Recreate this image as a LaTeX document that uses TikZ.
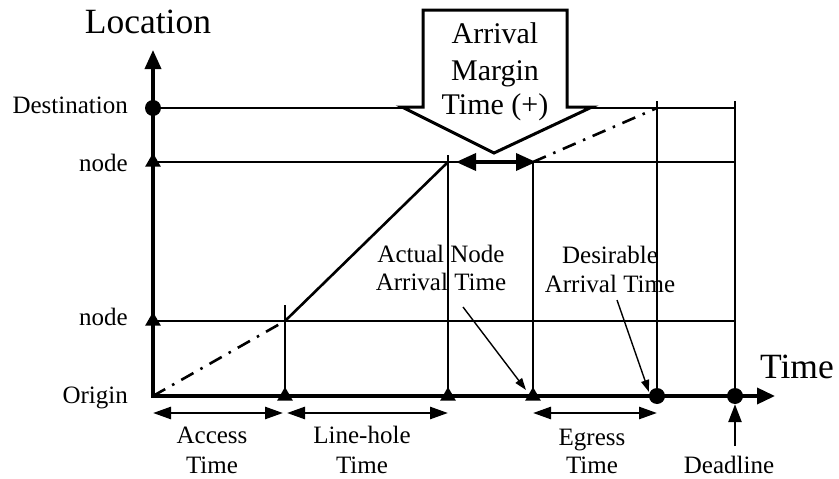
\documentclass[tikz,border=0pt]{standalone}
\usepackage{fontspec}
\setmainfont{Liberation Serif}
\usetikzlibrary{arrows.meta,shapes.geometric}

\begin{document}
\begin{tikzpicture}[x=1pt,y=-1pt,
  grid/.style={line width=1.7pt},
  axis/.style={line width=3.6pt, line join=miter},
  lbl/.style={font=\fontsize{25}{29}\selectfont, inner sep=0pt, anchor=base},
  ylbl/.style={font=\fontsize{25}{29}\selectfont, inner sep=0pt, anchor=base east},
  big/.style={font=\fontsize{35.5}{40}\selectfont, inner sep=0pt, anchor=base},
  calltext/.style={font=\fontsize{30}{36}\selectfont, inner sep=0pt, anchor=base},
  dashdot/.style={line width=2.6pt, dash pattern=on 14pt off 8pt on 2.5pt off 8pt},
  span/.style={line width=2.6pt, {Triangle[length=18pt,width=12pt]}-{Triangle[length=18pt,width=12pt]}},
  margin/.style={line width=3.6pt, {Triangle[length=20pt,width=17pt]}-{Triangle[length=20pt,width=17pt]}},
  pointer/.style={line width=1.4pt, -{Triangle[length=12pt,width=8pt]}},
  tri/.style={regular polygon, regular polygon sides=3, fill, draw=none, inner sep=0pt, minimum size=18pt},
  dot/.style={circle, fill, draw=none, inner sep=0pt, minimum size=16pt},
]
\useasboundingbox[fill=white] (0,0) rectangle (839,479);

% key points of the chart
\coordinate (O) at (153,396);
\coordinate (ytop) at (153,50);
\coordinate (xend) at (775,396);
\coordinate (dst) at (153,108);
\coordinate (n2) at (153,162);
\coordinate (n1) at (153,321);

% horizontal grid lines
\draw[grid] (dst) -- (735,108);
\draw[grid] (n2) -- (735,162);
\draw[grid] (n1) -- (735,321);

% vertical grid lines
\draw[grid] (285,305) -- (285,396);
\draw[grid] (448,155) -- (448,396);
\draw[grid] (533,162) -- (533,396);
\draw[grid] (657,101) -- (657,396);
\draw[grid] (735,101) -- (735,396);

% callout arrow
\draw[line width=3pt, fill=white, line join=miter]
  (423,10) -- (567,10) -- (567,107) -- (592,107) -- (494,153)
  -- (402,107) -- (423,107) -- cycle;
\node[calltext] (cm1) at (495,43) {Arrival};
\node[calltext] (cm2) at (495,80) {Margin};
\node[calltext] (cm3) at (495,114) {Time (+)};

% travel path
\coordinate (pA) at (285,321);
\coordinate (pB) at (448,162);
\coordinate (pC) at (533,162);
\coordinate (pD) at (657,108);
\draw[dashdot] (O) -- (pA);
\draw[line width=2.6pt] (pA) -- (pB);
\draw[dashdot] (pC) -- (pD);

% arrival margin span
\coordinate (mL) at (456,162);
\coordinate (mR) at (536,162);
\draw[margin] (mL) -- (mR);

% axes
\draw[axis, {Triangle[length=19pt,width=16pt]}-{Triangle[length=18pt,width=16pt]}]
  (ytop) -- (O) -- (xend);

% axis markers
\node[dot] (mdst) at (dst) {};
\node[tri] (mn2) at (n2) {};
\node[tri] (mn1) at (n1) {};
\node[tri] (ta) at (285,396) {};
\node[tri] (tb) at (448,396) {};
\node[tri] (tc) at (533,396) {};
\node[dot] (td) at (657,396) {};
\node[dot] (te) at (735,396) {};

% axis titles
\node[big] (loc) at (148,33) {Location};
\node[big] (tim) at (797,378) {Time};

% location labels
\node[ylbl] (ldst) at (128,113) {Destination};
\node[ylbl] (ln2) at (128,171) {node};
\node[ylbl] (ln1) at (128,325) {node};
\node[ylbl] (lorg) at (128,403) {Origin};

% duration spans
\draw[span] (153,413) -- (283,413);
\draw[span] (287,413) -- (448,413);
\draw[span] (533,413) -- (657,413);
\node[lbl] (acc1) at (212,443) {Access};
\node[lbl] (acc2) at (212,473) {Time};
\node[lbl] (lh1) at (362,443) {Line-hole};
\node[lbl] (lh2) at (362,473) {Time};
\node[lbl] (eg1) at (592,445) {Egress};
\node[lbl] (eg2) at (592,473) {Time};

% deadline
\coordinate (dl) at (735,446);
\draw[line width=2.6pt, -{Triangle[length=18pt,width=13pt]}] (dl) -- (te);
\node[lbl] (dln) at (729,473) {Deadline};

% arrival time notes
\node[lbl] (an1) at (441,262) {Actual Node};
\node[lbl] (an2) at (441,290) {Arrival Time};
\node[lbl] (da1) at (610,263) {Desirable};
\node[lbl] (da2) at (610,292) {Arrival Time};
\coordinate (anp) at (463,307);
\coordinate (dap) at (617,300);
\draw[pointer] (anp) -- (526,390);
\draw[pointer] (dap) -- (649,392);
\end{tikzpicture}
\end{document}
